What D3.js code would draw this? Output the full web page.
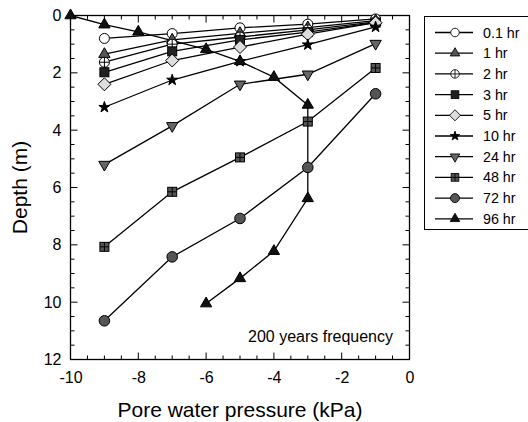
<!DOCTYPE html>
<html><head><meta charset="utf-8">
<script src="https://cdn.jsdelivr.net/npm/d3@7/dist/d3.min.js"></script>
<style>body{margin:0;background:#fff}svg{display:block;font-family:"Liberation Sans",Arial,sans-serif}</style>
</head><body><svg id="chart" width="528" height="422"></svg>
<script>
const seriesNames = ["0.1 hr","1 hr","2 hr","3 hr","5 hr","10 hr","24 hr","48 hr","72 hr","96 hr"];
const xStd = [-9,-7,-5,-3,-1];
const d01 = [0.8,0.63,0.43,0.3,0.12];
const d1  = [1.35,0.85,0.62,0.42,0.18];
const d2  = [1.63,1.0,0.75,0.5,0.22];
const d3v = [1.98,1.25,0.85,0.58,0.25];
const d5  = [2.4,1.57,1.1,0.65,0.25];
const d10 = [3.2,2.25,1.6,1.02,0.4];
const d24 = [5.2,3.85,2.4,2.05,0.98];
const d48 = [8.07,6.15,4.95,3.7,1.83];
const d72 = [10.65,8.42,7.08,5.3,2.73];
const x96 = [-10,-9,-8,-6,-5,-4,-3,-3,-4,-5,-6];
const d96 = [0,0.32,0.57,1.18,1.6,2.15,3.12,6.38,8.22,9.17,10.05];
const xTicks = [-10,-8,-6,-4,-2,0];
const yTicks = [0,2,4,6,8,10,12];

const x=d3.scaleLinear().domain([-10,0]).range([70.5,409.5]);
const y=d3.scaleLinear().domain([0,12]).range([15.5,359.5]);
const svg=d3.select("#chart");
const x0=x.range()[0],x1=x.range()[1],y0=y.range()[0],y1=y.range()[1];

const g=svg.append("g").attr("stroke","#000").attr("stroke-width",1);
g.append("rect").attr("x",x0).attr("y",y0).attr("width",x1-x0).attr("height",y1-y0).attr("fill","none").attr("stroke-width",1.3);
const minorX=d3.range(-10,0.01,0.5), minorY=d3.range(0,12.01,0.5);
minorX.forEach(v=>{const L=(Math.abs(v%2)<1e-6)?7:4;
  g.append("line").attr("x1",x(v)).attr("x2",x(v)).attr("y1",y1).attr("y2",y1-L);
  g.append("line").attr("x1",x(v)).attr("x2",x(v)).attr("y1",y0).attr("y2",y0+L);});
minorY.forEach(v=>{const L=(Math.abs(v%2)<1e-6)?7:4;
  g.append("line").attr("y1",y(v)).attr("y2",y(v)).attr("x1",x0).attr("x2",x0+L);
  g.append("line").attr("y1",y(v)).attr("y2",y(v)).attr("x1",x1).attr("x2",x1-L);});
const ax=svg.append("g").attr("transform",`translate(0,${y1})`).call(d3.axisBottom(x).tickValues(xTicks).tickSize(0).tickPadding(12));
const ay=svg.append("g").attr("transform",`translate(${x0},0)`).call(d3.axisLeft(y).tickValues(yTicks).tickSize(0).tickPadding(9));
[ax,ay].forEach(a=>{a.select(".domain").remove();a.selectAll("text").attr("font-size",16).attr("fill","#000").attr("font-family","Liberation Sans, Arial, sans-serif");});
ax.selectAll("text").text(d=>d<0?"-"+Math.abs(d):String(d));

svg.append("text").attr("x",(x0+x1)/2).attr("y",417).attr("text-anchor","middle").attr("font-size",21).text("Pore water pressure (kPa)");
svg.append("text").attr("transform",`translate(27,${(y0+y1)/2}) rotate(-90)`).attr("text-anchor","middle").attr("font-size",21).text("Depth (m)");
svg.append("text").attr("x",393).attr("y",342).attr("text-anchor","end").attr("font-size",16).text("200 years frequency");

function marker(sel,type,cx,cy,k){
  k=k||1;
  const s=sel.append("g").attr("transform",`translate(${cx},${cy}) scale(${k})`).attr("stroke","#000").attr("stroke-width",1);
  const r=5;
  switch(type){
    case "ocircle": s.append("circle").attr("r",r).attr("fill","#fff"); break;
    case "gtri": s.append("path").attr("d",d3.symbol(d3.symbolTriangle,55)()).attr("fill","#555"); break;
    case "xcircle": s.append("circle").attr("r",r).attr("fill","#fff");
      s.append("path").attr("d",`M${-r},0H${r}M0,${-r}V${r}`); break;
    case "bsquare": s.append("rect").attr("x",-4.5).attr("y",-4.5).attr("width",9).attr("height",9).attr("fill","#222"); break;
    case "diamond": s.append("path").attr("d",`M0,${-r-1.5}L${r+1.5},0L0,${r+1.5}L${-r-1.5},0Z`).attr("fill","#ddd"); break;
    case "star": s.append("path").attr("d",d3.symbol(d3.symbolStar,38)()).attr("fill","#000"); break;
    case "dtri": s.append("path").attr("d",d3.symbol(d3.symbolTriangle,55)()).attr("transform","rotate(180)").attr("fill","#666"); break;
    case "gsquare": s.append("rect").attr("x",-4.5).attr("y",-4.5).attr("width",9).attr("height",9).attr("fill","#555");
      s.append("path").attr("d",`M-4.5,0H4.5M0,-4.5V4.5`).attr("stroke","#000"); break;
    case "gcircle": s.append("circle").attr("r",r+0.3).attr("fill","#555"); break;
    case "btri": s.append("path").attr("d",d3.symbol(d3.symbolTriangle,55)()).attr("fill","#111"); break;
  }
}
const types=["ocircle","gtri","xcircle","bsquare","diamond","star","dtri","gsquare","gcircle","btri"];
const depthArrays=[d01,d1,d2,d3v,d5,d10,d24,d48,d72,d96];
const line=d3.line().x(p=>x(p[0])).y(p=>y(p[1]));
const plot=svg.append("g");
const allSeries=depthArrays.map((d,i)=>{const xs=i===9?x96:xStd; return d.map((v,j)=>[xs[j],v]);});
allSeries.forEach(pts=>plot.append("path").attr("d",line(pts)).attr("fill","none").attr("stroke","#000").attr("stroke-width",1.3));
allSeries.forEach((pts,i)=>pts.forEach(p=>marker(plot,types[i],x(p[0]),y(p[1]))));

const lg=svg.append("g");
lg.append("rect").attr("x",424.5).attr("y",16.5).attr("width",110).attr("height",213).attr("fill","#fff").attr("stroke","#000").attr("stroke-width",1);
seriesNames.forEach((n,i)=>{const ly=32.5+i*20.7;
  lg.append("line").attr("x1",435).attr("x2",473).attr("y1",ly).attr("y2",ly).attr("stroke","#000").attr("stroke-width",1.3);
  marker(lg,types[i],455,ly,0.85);
  lg.append("text").attr("x",483).attr("y",ly+5).attr("font-size",14.3).text(n);
});
</script></body></html>
